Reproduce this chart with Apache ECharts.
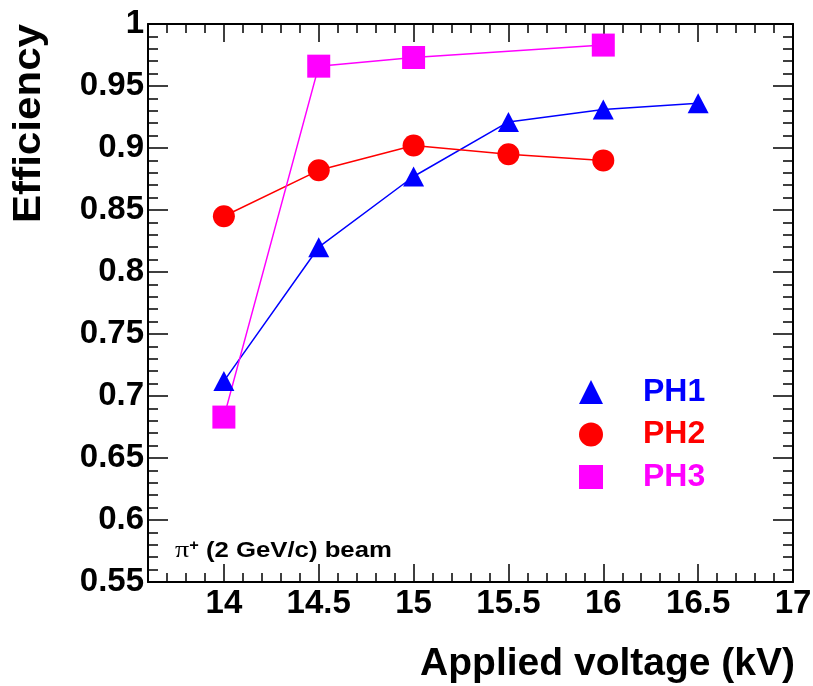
<!DOCTYPE html>
<html>
<head>
<meta charset="utf-8">
<script src="https://cdn.jsdelivr.net/npm/echarts@6/dist/echarts.min.js"></script>
<style>
html,body{margin:0;padding:0;background:#fff;}
#chart{width:813px;height:686px;}
</style>
</head>
<body>
<div id="chart"></div>
<script>
// Data
const voltages = [14, 14.5, 15, 15.5, 16, 16.5];
const ph1 = [0.712, 0.820, 0.877, 0.921, 0.931, 0.936];
const ph2Voltages = [14, 14.5, 15, 15.5, 16];
const ph2 = [0.845, 0.882, 0.902, 0.895, 0.890];
const ph3Voltages = [14, 14.5, 15, 16];
const ph3 = [0.683, 0.966, 0.973, 0.983];
const xTickLabels = [14, 14.5, 15, 15.5, 16, 16.5, 17];
const seriesNames = ['PH1', 'PH2', 'PH3'];

const FONT = '"Liberation Sans", Arial, Helvetica, sans-serif';
const pair = (xs, ys) => xs.map((x, i) => [x, ys[i]]);

const chart = echarts.init(document.getElementById('chart'), null, {renderer: 'canvas'});

const lineStyle = {color: '#000', width: 2};
const baseX = {
  type: 'value', min: 13.6, max: 17, gridIndex: 0,
  splitLine: {show: false}
};

const option = {
  backgroundColor: '#fff',
  animation: false,
  grid: {left: 148, right: 20, top: 24, bottom: 104, containLabel: false, outerBoundsMode: 'none'},
  xAxis: [
    Object.assign({}, baseX, {
      position: 'bottom', interval: 0.1,
      axisLine: {show: true, onZero: false, lineStyle: lineStyle},
      axisTick: {show: true, inside: true, length: 9, lineStyle: {color: '#000', width: 1.5}},
      axisLabel: {
        show: true, customValues: xTickLabels, margin: 5,
        fontFamily: FONT, fontWeight: 'bold', fontSize: 33, color: '#000',
        formatter: v => String(parseFloat(Number(v).toFixed(2)))
      }
    }),
    Object.assign({}, baseX, {
      position: 'bottom',
      axisLine: {show: false, onZero: false},
      axisTick: {show: true, inside: true, length: 18, customValues: xTickLabels, lineStyle: {color: '#000', width: 1.5}},
      axisLabel: {show: false}
    }),
    Object.assign({}, baseX, {
      position: 'top', interval: 0.1,
      axisLine: {show: true, onZero: false, lineStyle: lineStyle},
      axisTick: {show: true, inside: true, length: 9, lineStyle: {color: '#000', width: 1.5}},
      axisLabel: {show: false}
    }),
    Object.assign({}, baseX, {
      position: 'top',
      axisLine: {show: false, onZero: false},
      axisTick: {show: true, inside: true, length: 18, customValues: xTickLabels, lineStyle: {color: '#000', width: 1.5}},
      axisLabel: {show: false}
    })
  ],
  yAxis: [
    {
      type: 'value', min: 0.55, max: 1, interval: 0.05, position: 'left',
      splitLine: {show: false},
      axisLine: {show: true, onZero: false, lineStyle: lineStyle},
      axisTick: {show: true, inside: true, length: 20, lineStyle: {color: '#000', width: 1.5}},
      minorTick: {show: true, splitNumber: 5, length: 10, lineStyle: {color: '#000', width: 1.5}},
      minorSplitLine: {show: false},
      axisLabel: {
        show: true, margin: 4, showMinLabel: true, showMaxLabel: true,
        fontFamily: FONT, fontWeight: 'bold', fontSize: 33, color: '#000',
        formatter: v => String(parseFloat(Number(v).toFixed(2)))
      }
    },
    {
      type: 'value', min: 0.55, max: 1, interval: 0.05, position: 'right',
      splitLine: {show: false},
      axisLine: {show: true, onZero: false, lineStyle: lineStyle},
      axisTick: {show: true, inside: true, length: 20, lineStyle: {color: '#000', width: 1.5}},
      minorTick: {show: true, splitNumber: 5, length: 10, lineStyle: {color: '#000', width: 1.5}},
      minorSplitLine: {show: false},
      axisLabel: {show: false}
    }
  ],
  legend: {
    orient: 'vertical', left: 574, top: 371,
    itemWidth: 24, itemHeight: 24, itemGap: 10.5,
    textStyle: {fontFamily: FONT, fontWeight: 'bold', fontSize: 32, padding: [0, 0, 0, 35]},
    data: [
      {name: seriesNames[0], icon: 'triangle', textStyle: {color: '#0000ff'}},
      {name: seriesNames[1], icon: 'circle', textStyle: {color: '#ff0000'}},
      {name: seriesNames[2], icon: 'rect', textStyle: {color: '#ff00ff'}}
    ]
  },
  series: [
    {
      name: seriesNames[0], type: 'line', xAxisIndex: 0, yAxisIndex: 0,
      data: pair(voltages, ph1),
      symbol: 'triangle', symbolSize: [21, 20],
      lineStyle: {color: '#0000ff', width: 1.5},
      itemStyle: {color: '#0000ff'}
    },
    {
      name: seriesNames[1], type: 'line', xAxisIndex: 0, yAxisIndex: 0,
      data: pair(ph2Voltages, ph2),
      symbol: 'circle', symbolSize: 22,
      lineStyle: {color: '#ff0000', width: 1.5},
      itemStyle: {color: '#ff0000'}
    },
    {
      name: seriesNames[2], type: 'line', xAxisIndex: 0, yAxisIndex: 0,
      data: pair(ph3Voltages, ph3),
      symbol: 'rect', symbolSize: 23,
      lineStyle: {color: '#ff00ff', width: 1.5},
      itemStyle: {color: '#ff00ff'}
    }
  ],
  graphic: [
    {
      type: 'text', x: 29, y: 24, rotation: Math.PI / 2, scaleX: 1.08,
      style: {
        text: 'Efficiency', fontFamily: FONT, fontWeight: 'bold', fontSize: 39,
        fill: '#000', align: 'right', verticalAlign: 'middle'
      }
    },
    {
      type: 'text', x: 795, y: 664,
      style: {
        text: 'Applied voltage (kV)', fontFamily: FONT, fontWeight: 'bold', fontSize: 39,
        fill: '#000', align: 'right', verticalAlign: 'middle'
      }
    },
    {
      type: 'text', x: 175, y: 551, scaleX: 1.17,
      style: {
        text: '{p|π}{s|+}{t| (2 GeV/c) beam}',
        align: 'left', verticalAlign: 'middle',
        rich: {
          p: {fontFamily: '"Liberation Serif", "DejaVu Serif", serif', fontSize: 24, fill: '#000'},
          s: {fontFamily: FONT, fontWeight: 'bold', fontSize: 14, fill: '#000', verticalAlign: 'top', padding: [0, 0, 10, 0]},
          t: {fontFamily: FONT, fontWeight: 'bold', fontSize: 22, fill: '#000'}
        }
      }
    }
  ]
};
chart.setOption(option);
</script>
</body>
</html>
